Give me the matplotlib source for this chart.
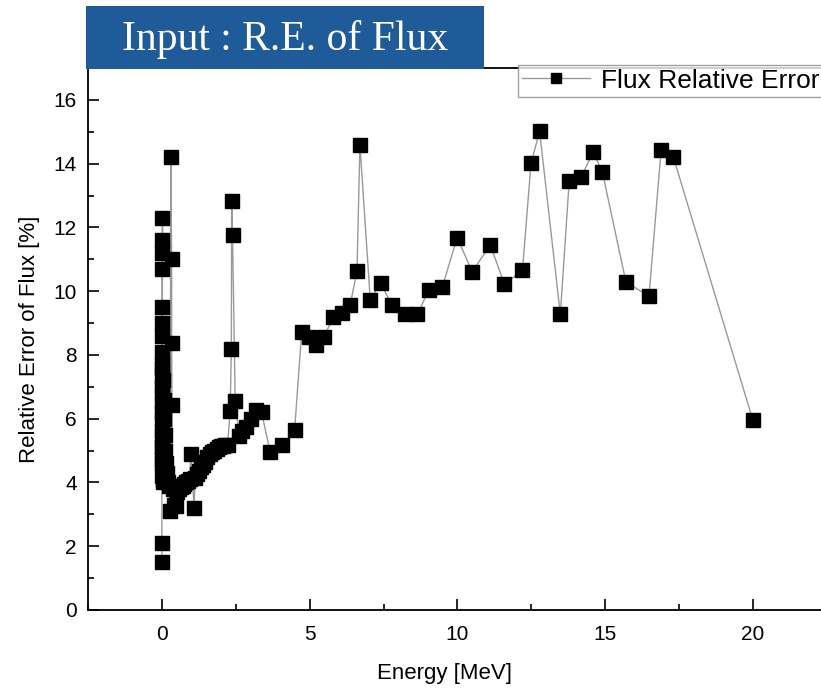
import matplotlib.pyplot as plt
from matplotlib.patches import Rectangle
from matplotlib.ticker import MultipleLocator

# energy [MeV] and relative error of flux [%], in group order
energy = [
    0.0, 0.0, 0.0, 0.0, 0.0, 0.0, 0.0, 0.0, 0.0, 0.0,
    0.0, 0.0, 0.01, 0.01, 0.01, 0.01, 0.02, 0.02, 0.01, 0.01,
    0.01, 0.01, 0.02, 0.02, 0.02, 0.03, 0.03, 0.04, 0.05, 0.06,
    0.08, 0.1, 0.12, 0.15, 0.18, 0.22, 0.25, 0.28, 0.3, 0.33,
    0.33, 0.34, 0.36, 0.4, 0.47, 0.52, 0.58, 0.64, 0.7, 0.76,
    0.82, 0.88, 0.94, 0.98, 1.09, 1.12, 1.2, 1.26, 1.32, 1.4,
    1.47, 1.54, 1.62, 1.7, 1.77, 1.85, 1.92, 1.99, 2.07, 2.15,
    2.22, 2.31, 2.35, 2.36, 2.39, 2.48, 2.61, 2.72, 2.84, 3.0,
    3.18, 3.37, 3.66, 4.08, 4.49, 4.73, 4.98, 5.2, 5.48, 5.8,
    6.08, 6.37, 6.6, 6.7, 7.05, 7.4, 7.78, 8.24, 8.64, 9.04,
    9.49, 9.99, 10.5, 11.11, 11.59, 12.2, 12.49, 12.78, 13.48, 13.78,
    14.18, 14.59, 14.9, 15.7, 16.48, 16.89, 17.3, 19.99,
]
rel_err = [
    1.5, 2.1, 4.2, 4.6, 5.1, 5.6, 6.2, 6.8, 7.3, 7.7,
    8.1, 8.6, 9.0, 9.5, 10.7, 11.2, 11.6, 12.3, 7.6, 7.0,
    6.5, 6.0, 5.5, 5.1, 4.7, 4.4, 4.1, 4.0, 7.2, 6.6,
    6.0, 5.5, 5.0, 4.6, 4.3, 4.0, 3.9, 3.1, 14.2, 11.0,
    8.36, 6.42, 3.8, 3.3, 3.27, 3.7, 3.8, 3.85, 3.9, 3.95,
    4.0, 4.05, 4.1, 4.9, 3.2, 4.15, 4.25, 4.35, 4.47, 4.55,
    4.65, 4.79, 4.88, 4.95, 5.0, 5.05, 5.1, 5.13, 5.15, 5.17,
    5.18, 6.24, 8.18, 12.83, 11.76, 6.55, 5.47, 5.6, 5.73, 6.0,
    6.28, 6.21, 4.97, 5.16, 5.65, 8.72, 8.56, 8.3, 8.56, 9.19,
    9.33, 9.57, 10.62, 14.59, 9.73, 10.26, 9.56, 9.27, 9.27, 10.05,
    10.14, 11.68, 10.61, 11.45, 10.22, 10.66, 14.02, 15.01, 9.27, 13.44,
    13.57, 14.36, 13.75, 10.29, 9.84, 14.43, 14.22, 5.97,
]

plt.rcParams['font.family'] = ['Liberation Sans', 'DejaVu Sans']

fig = plt.figure(figsize=(8.21, 6.89), dpi=100)
ax = fig.add_axes([0.1072, 0.1147, 0.900, 0.7866])

ax.plot(energy, rel_err, color='#999999', lw=1.0, marker='s', ms=9.5,
        mfc='black', mec='black', label='Flux Relative Error')

ax.set_xlim(-2.5, 22.5)
ax.set_ylim(0, 17)
ax.xaxis.set_major_locator(MultipleLocator(5))
ax.xaxis.set_minor_locator(MultipleLocator(2.5))
ax.yaxis.set_major_locator(MultipleLocator(2))
ax.yaxis.set_minor_locator(MultipleLocator(1))
ax.tick_params(which='both', direction='in', labelsize=15, width=1.2)
ax.tick_params(which='major', length=8, pad=8)
ax.tick_params(axis='x', which='major', pad=11)
ax.tick_params(which='minor', length=4)
for sp in ax.spines.values():
    sp.set_linewidth(1.3)

ax.set_xlabel('Energy [MeV]', fontsize=16)
ax.xaxis.set_label_coords(0.482, -0.098)
ax.set_ylabel('Relative Error of Flux [%]', fontsize=16, labelpad=10)

leg = fig.legend(loc='upper right', bbox_to_anchor=(1.003, 0.906),
                 fontsize=19, fancybox=False, edgecolor='#888888',
                 borderpad=0.15, handlelength=2.6, handletextpad=0.4,
                 borderaxespad=0)
leg.get_frame().set_linewidth(1.0)
leg.legend_handles[0].set_markersize(7)

# title banner
fig.patches.append(Rectangle((0.1048, 0.8999), 0.4848, 0.0914,
                             transform=fig.transFigure, facecolor='#1f5b98',
                             edgecolor='none', zorder=5))
fig.text(0.347, 0.943, 'Input : R.E. of Flux', color='white', fontsize=30,
         family='Liberation Serif', ha='center', va='center', zorder=6)

fig.savefig('out.png', dpi=100)
